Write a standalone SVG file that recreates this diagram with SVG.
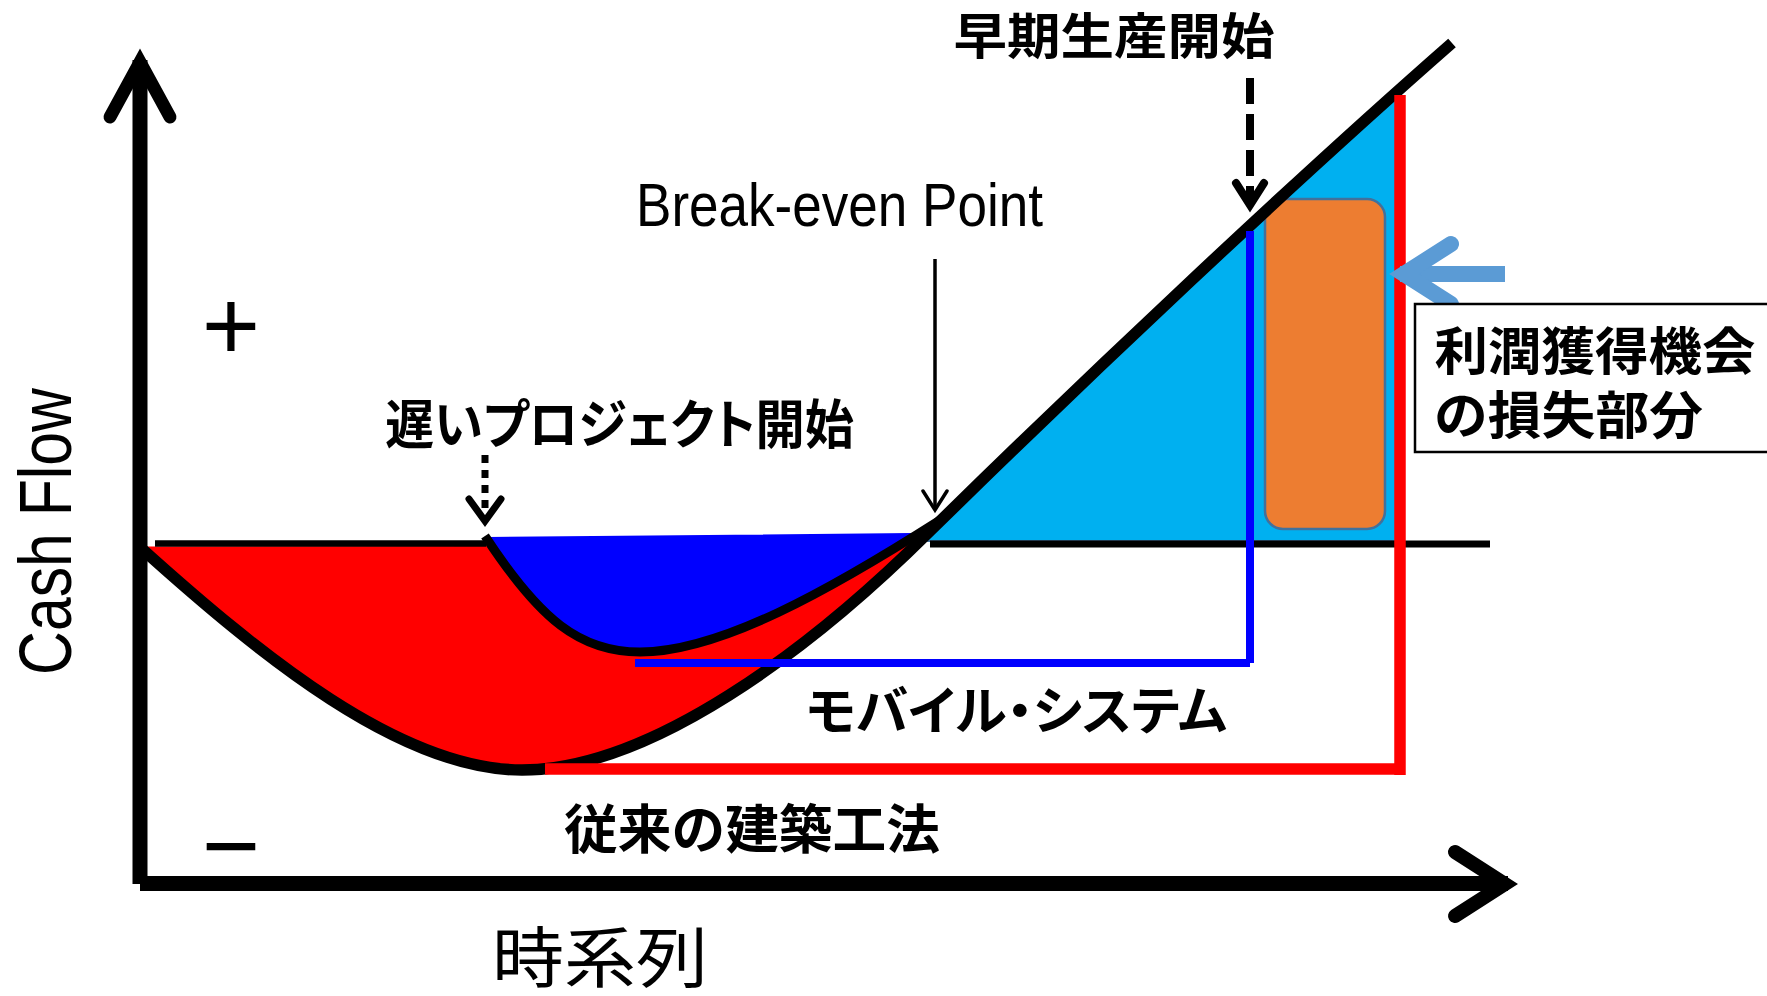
<svg xmlns="http://www.w3.org/2000/svg" width="1767" height="996" viewBox="0 0 1767 996">
<defs>
<style>
.jp{font-family:"Noto Sans CJK JP","Noto Sans CJK SC",sans-serif;font-weight:700;fill:#000}
.pal{font-feature-settings:"palt"}
.jpr{font-family:"Noto Sans CJK JP","Noto Sans CJK SC",sans-serif;font-weight:400;fill:#000}
.en{font-family:"Liberation Sans",Arial,sans-serif;font-weight:400;fill:#000}
.narrow{font-family:"Liberation Sans Narrow","Liberation Sans",Arial,sans-serif;font-weight:400;fill:#000}
.blk{fill:none;stroke:#000}
.chev{fill:none;stroke:#000;stroke-linecap:round;stroke-linejoin:miter;stroke-miterlimit:10}
</style>
</defs>
<rect width="1767" height="996" fill="#fff"/>

<g id="areas">
<path id="conventional-area" d="M146,552 C260,655 400,770 522,770 C650,770 810,650 928,533 L487,546 L148,546.5 Z" fill="#ff0000"/>
<path id="mobile-area" d="M487,537 L913,533 L936,522 C830,590 720,652 640,652 C580,652 540,620 487,540 Z" fill="#0000ff"/>
<polygon id="profit-area" points="928,541 928,533 1055,409 1190,282 1325,157 1400,89 1400,541" fill="#00b0f0" stroke="#41719c" stroke-width="2"/>
</g>

<g id="loss-box">
<rect x="1265" y="199" width="120" height="330" rx="18" ry="18" fill="#ed7d31" stroke="#41719c" stroke-width="2.5"/>
</g>

<g id="curves">
<line class="blk" x1="155" y1="543.5" x2="486" y2="543.5" stroke-width="6.5"/>
<line class="blk" x1="930" y1="544" x2="1490" y2="544" stroke-width="7"/>
<path class="blk" d="M141,548 C260,655 400,770 522,770 C650,770 810,650 928,533 C1090,374 1290,185 1452,43" stroke-width="11.5"/>
<path class="blk" d="M485,536 C540,620 580,652 640,652 C720,652 830,590 940,520" stroke-width="9"/>
</g>

<g id="connectors">
<path d="M635,663 L1250,663" fill="none" stroke="#0000ff" stroke-width="8"/>
<path d="M1250,663 L1250,231" fill="none" stroke="#0000ff" stroke-width="8"/>
<path d="M545,769 L1400,769" fill="none" stroke="#ff0000" stroke-width="11.5"/>
<path d="M1400,775 L1400,95" fill="none" stroke="#ff0000" stroke-width="11.5"/>
<line class="blk" x1="1250" y1="78" x2="1250" y2="200" stroke-width="8" stroke-dasharray="26 10"/>
<polyline class="chev" points="1236,183 1250,205 1264,183" stroke-width="8"/>
<line class="blk" x1="485" y1="455" x2="485" y2="518" stroke-width="7" stroke-dasharray="8 7"/>
<polyline class="chev" points="469,499 485,521 501,499" stroke-width="7"/>
<line class="blk" x1="935" y1="259" x2="935" y2="508" stroke-width="3.5"/>
<polyline class="chev" points="923,491 935,510 947,491" stroke-width="3.5"/>
<line x1="1505" y1="274" x2="1400" y2="274" stroke="#5b9bd5" stroke-width="16"/>
<polyline points="1451,244 1404,274 1451,304" fill="none" stroke="#5b9bd5" stroke-width="16" stroke-linecap="round" stroke-linejoin="miter"/>
</g>

<g id="axes">
<line class="blk" x1="140" y1="60" x2="140" y2="884" stroke-width="15"/>
<polyline class="chev" points="110,117 140,62 170,117" stroke-width="13"/>
<line class="blk" x1="140" y1="883.5" x2="1508" y2="883.5" stroke-width="15"/>
<polyline class="chev" points="1455,852 1505,884 1455,916" stroke-width="14"/>
</g>

<g id="label-box">
<path d="M1767,304 L1415,304 L1415,452 L1767,452" fill="#fff" stroke="#000" stroke-width="2.5"/>
<text class="jp" x="1434.5" y="369.5" font-size="51" textLength="321" lengthAdjust="spacingAndGlyphs">利潤獲得機会</text>
<text class="jp" x="1434" y="434" font-size="51" textLength="269" lengthAdjust="spacingAndGlyphs">の損失部分</text>
</g>

<g id="labels">
<text class="jp" x="953.5" y="54" font-size="49" textLength="321" lengthAdjust="spacingAndGlyphs">早期生産開始</text>
<text class="narrow" x="636" y="226" font-size="61" textLength="407" lengthAdjust="spacingAndGlyphs">Break-even Point</text>
<text class="jp pal" x="385" y="444" font-size="53" textLength="469" lengthAdjust="spacingAndGlyphs">遅いプロジェクト開始</text>
<text class="jp pal" x="806" y="730" font-size="52" textLength="421" lengthAdjust="spacingAndGlyphs">モバイル・システム</text>
<text class="jp" x="564" y="849" font-size="53" textLength="376" lengthAdjust="spacingAndGlyphs">従来の建築工法</text>
<text class="jpr" x="492" y="982" font-size="66" textLength="216" lengthAdjust="spacingAndGlyphs">時系列</text>
<text class="en" x="231" y="360" font-size="100" text-anchor="middle">+</text>
<text class="en" x="231" y="880" font-size="100" text-anchor="middle">−</text>
<text class="en" transform="translate(71,675) rotate(-90)" font-size="75" textLength="287" lengthAdjust="spacingAndGlyphs">Cash Flow</text>
</g>
</svg>
